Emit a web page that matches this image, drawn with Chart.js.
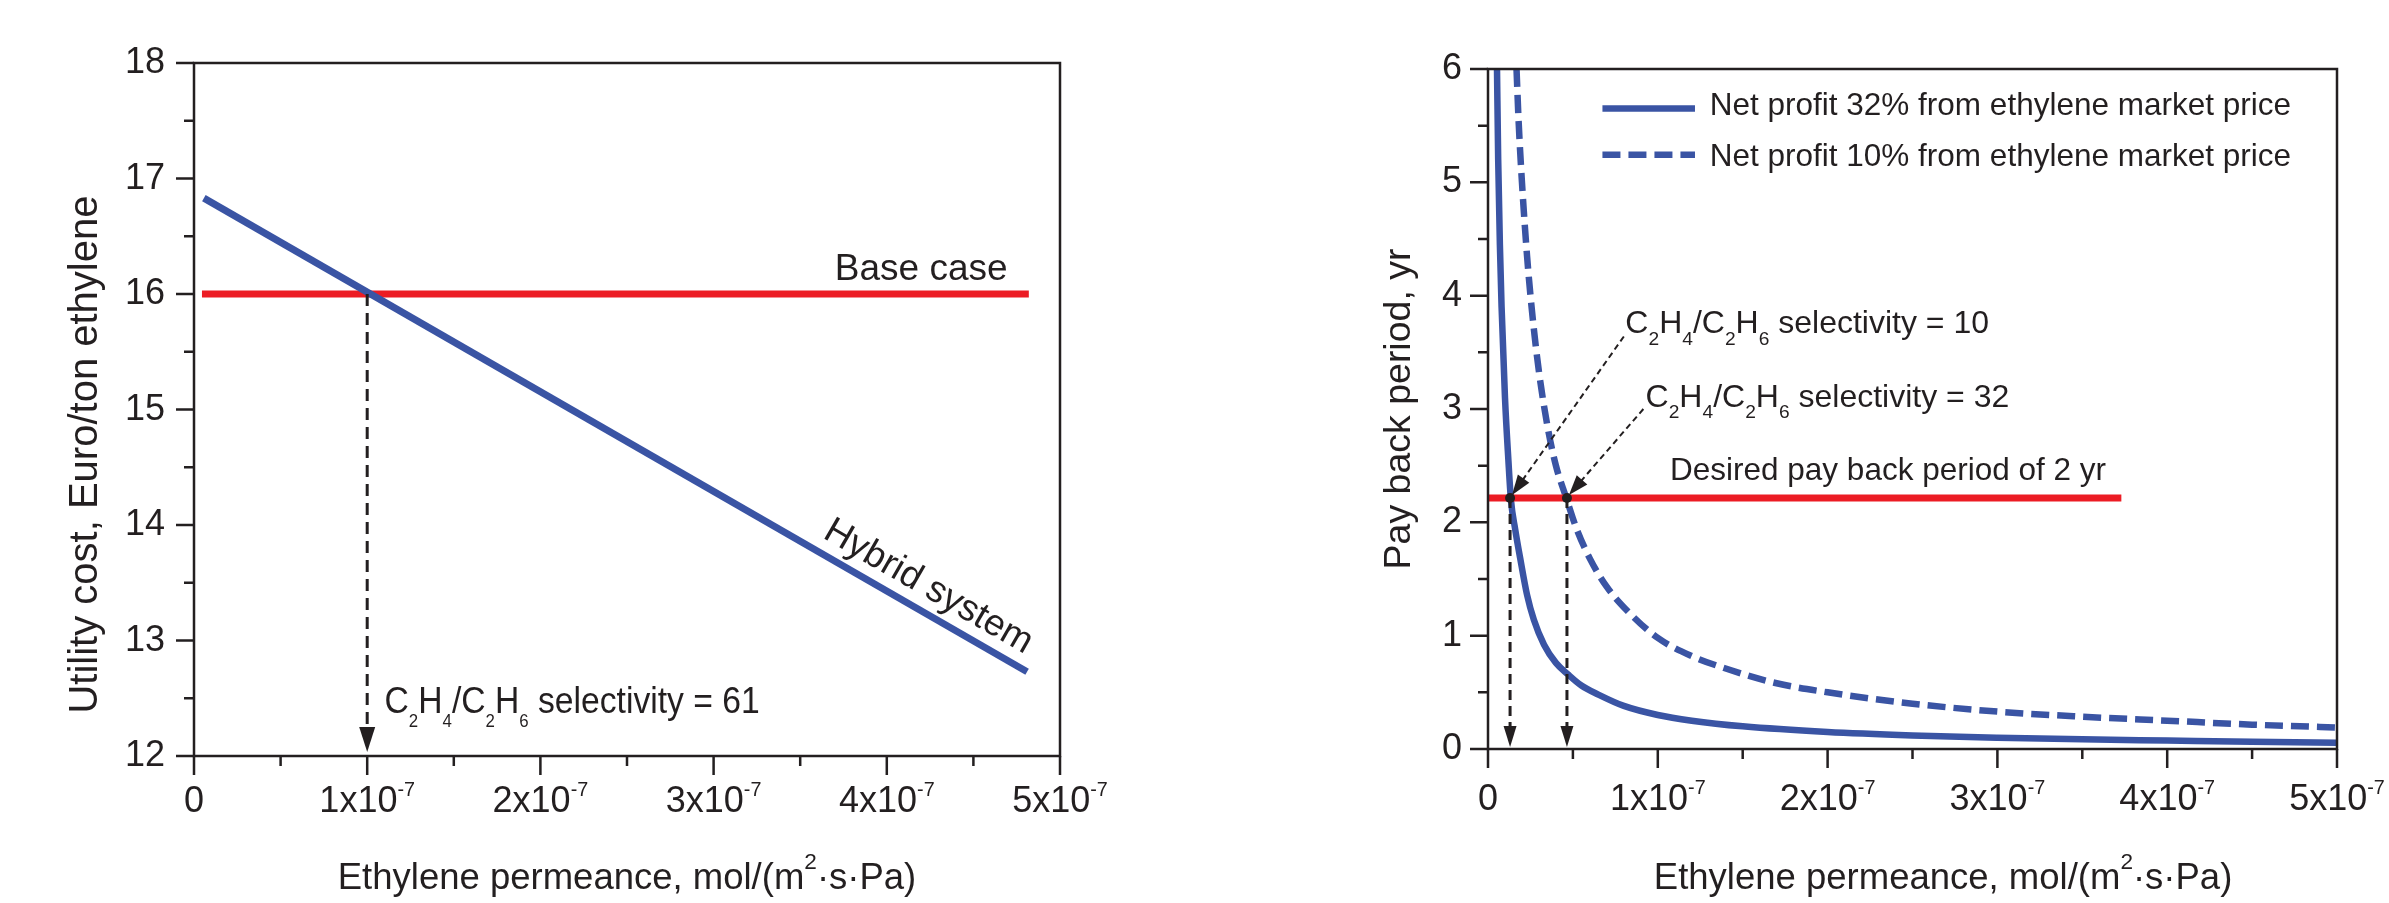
<!DOCTYPE html>
<html><head><meta charset="utf-8">
<script src="https://cdn.jsdelivr.net/npm/chart.js@4.4.1/dist/chart.umd.min.js"></script>
<style>
html,body{margin:0;padding:0;background:#fff;overflow:hidden}
#wrap{position:relative;width:2389px;height:903px;background:#fff}
canvas{position:absolute;top:0}
</style></head><body>
<div id="wrap">
<canvas id="left" width="1194" height="903" style="left:0"></canvas>
<canvas id="right" width="1195" height="903" style="left:1194px"></canvas>
</div>
<script>
// ================= DATA =================
// Left panel: utility cost vs ethylene permeance
const leftPermeance = [0.057e-7, 4.81e-7];
const hybridCost    = [16.83, 12.73];
const basePermeance = [0.046e-7, 4.82e-7];
const baseCost      = [16, 16];
const sel61Permeance = 1e-7;

// Right panel: pay back period vs ethylene permeance
const perm32    = [0.053e-7,0.06e-7,0.07e-7,0.08e-7,0.10e-7,0.12e-7,0.135e-7,0.16e-7,0.19e-7,0.23e-7,0.27e-7,0.33e-7,0.40e-7,0.47e-7,0.55e-7,0.65e-7,0.80e-7,1.0e-7,1.2e-7,1.5e-7,2.0e-7,2.5e-7,3.0e-7,3.5e-7,4.0e-7,4.5e-7,5.0e-7];
const payback32 = [6.0,5.2,4.45,3.9,3.1,2.55,2.2,1.94,1.68,1.36,1.14,0.92,0.76,0.66,0.56,0.48,0.38,0.30,0.25,0.20,0.15,0.12,0.10,0.085,0.075,0.065,0.055];
const perm10    = [0.168e-7,0.18e-7,0.20e-7,0.23e-7,0.26e-7,0.30e-7,0.35e-7,0.40e-7,0.46e-7,0.52e-7,0.60e-7,0.70e-7,0.82e-7,1.0e-7,1.2e-7,1.4e-7,1.7e-7,2.0e-7,2.5e-7,3.0e-7,3.5e-7,4.0e-7,4.5e-7,5.0e-7];
const payback10 = [6.0,5.55,5.0,4.35,3.85,3.33,2.85,2.5,2.22,1.95,1.68,1.43,1.22,0.98,0.82,0.71,0.58,0.50,0.40,0.33,0.285,0.25,0.215,0.19];
const desiredPermeance = [0, 3.73e-7];
const desiredPayback   = [2.215, 2.215];
const crossPermeance   = [0.13e-7, 0.465e-7];
const crossPayback     = 2.215;

// Ticks
const xMajor = [0,1e-7,2e-7,3e-7,4e-7,5e-7];
const xMinor = [0.5e-7,1.5e-7,2.5e-7,3.5e-7,4.5e-7];
const xTickMantissa = ['0','1x10','2x10','3x10','4x10','5x10'];
const xTickExponent = ['','-7','-7','-7','-7','-7'];
const leftYMajor = [12,13,14,15,16,17,18];
const leftYMinor = [12.5,13.5,14.5,15.5,16.5,17.5];
const rightYMajor = [0,1,2,3,4,5,6];
const rightYMinor = [0.5,1.5,2.5,3.5,4.5,5.5];

// ================= STYLE =================
const INK='#231f20', BLUE='#3a54a4', RED='#ec1c24';
const FONT='"Liberation Sans", Arial, Helvetica, sans-serif';

function rich(ctx, parts, x, y, size, align, opt) {
  opt = Object.assign({subScale:0.55, subDy:0.36, supScale:0.58, supDy:-0.42, hscale:1}, opt||{});
  const fz = m => (m==='sub' ? size*opt.subScale : m==='sup' ? size*opt.supScale : size);
  const widths = parts.map(([t,m]) => { ctx.font = fz(m)+'px '+FONT; return ctx.measureText(t).width; });
  const total = widths.reduce((s,w)=>s+w,0)*opt.hscale;
  let sx = align==='center' ? x-total/2 : align==='right' ? x-total : x;
  ctx.save();
  ctx.translate(sx, y); ctx.scale(opt.hscale, 1);
  ctx.textAlign='left'; ctx.textBaseline='alphabetic'; ctx.fillStyle=INK;
  let cx = 0;
  parts.forEach(([t,m],i)=>{
    ctx.font = fz(m)+'px '+FONT;
    const dy = m==='sub' ? size*opt.subDy : m==='sup' ? size*opt.supDy : 0;
    ctx.fillText(t, cx, dy);
    cx += widths[i];
  });
  ctx.restore();
}
function arrowHead(ctx, tx, ty, ang, len, hw) {
  ctx.save(); ctx.setLineDash([]); ctx.fillStyle=INK;
  ctx.translate(tx,ty); ctx.rotate(ang);
  ctx.beginPath(); ctx.moveTo(0,0); ctx.lineTo(-len,-hw); ctx.lineTo(-len,hw); ctx.closePath(); ctx.fill();
  ctx.restore();
}
function dashedArrow(ctx, x1,y1,x2,y2, dash, lw, len, hw) {
  const ang = Math.atan2(y2-y1, x2-x1);
  const ex = x2 - Math.cos(ang)*len*0.8, ey = y2 - Math.sin(ang)*len*0.8;
  ctx.save(); ctx.strokeStyle=INK; ctx.lineWidth=lw; ctx.setLineDash(dash);
  ctx.beginPath(); ctx.moveTo(x1,y1); ctx.lineTo(ex,ey); ctx.stroke(); ctx.restore();
  arrowHead(ctx, x2,y2, ang, len, hw);
}
function axes(chart, c) {
  const {ctx, chartArea:a, scales:{x,y}} = chart;
  ctx.save();
  ctx.strokeStyle=INK; ctx.lineWidth=2.5; ctx.setLineDash([]);
  ctx.strokeRect(a.left, a.top, a.right-a.left, a.bottom-a.top);
  ctx.beginPath();
  xMajor.forEach(v=>{const p=x.getPixelForValue(v); ctx.moveTo(p,a.bottom); ctx.lineTo(p,a.bottom+19);});
  xMinor.forEach(v=>{const p=x.getPixelForValue(v); ctx.moveTo(p,a.bottom); ctx.lineTo(p,a.bottom+10);});
  c.yMajor.forEach(v=>{const p=y.getPixelForValue(v); ctx.moveTo(a.left-18,p); ctx.lineTo(a.left,p);});
  c.yMinor.forEach(v=>{const p=y.getPixelForValue(v); ctx.moveTo(a.left-10,p); ctx.lineTo(a.left,p);});
  ctx.stroke();
  xMajor.forEach((v,i)=>{
    const parts=[[xTickMantissa[i],'b']]; if(xTickExponent[i]) parts.push([xTickExponent[i],'sup']);
    rich(ctx, parts, x.getPixelForValue(v), a.bottom+c.xLabelDy, 36, 'center', {supScale:0.55, supDy:-0.44});
  });
  c.yMajor.forEach(v=>{ rich(ctx, [[String(v),'b']], a.left-c.yLabelDx, y.getPixelForValue(v)+10, 36, 'right'); });
  // axis titles
  rich(ctx, [['Ethylene permeance, mol/(m','b'],['2','sup'],['\u00b7s\u00b7Pa)','b']], x.getPixelForValue(c.xTitleAt), 889, 36.5, 'center', {supScale:0.62, supDy:-0.56});
  ctx.save(); ctx.translate(c.yTitleX, y.getPixelForValue(c.yTitleAt)); ctx.rotate(-Math.PI/2);
  rich(ctx, [[c.yTitle,'b']], 0, 0, c.yTitleSize, 'center'); ctx.restore();
  ctx.restore();
}
const C2 = (n) => [['C','b'],['2','sub'],['H','b'],['4','sub'],['/C','b'],['2','sub'],['H','b'],['6','sub'],[' selectivity = '+n,'b']];

// ================= LEFT CHART =================
const leftDecor = { id:'leftDecor', afterDraw(chart){
  const {ctx, chartArea:a, scales:{x,y}} = chart;
  axes(chart, {yMajor:leftYMajor, yMinor:leftYMinor, xLabelDy:56, yLabelDx:29, xTitleAt:2.5e-7, yTitleX:97, yTitleAt:14.61, yTitleSize:40, yTitle:'Utility cost, Euro/ton ethylene'});
  ctx.save();
  // dashed arrow down from the crossing
  const px = x.getPixelForValue(sel61Permeance);
  dashedArrow(ctx, px, y.getPixelForValue(16), px, a.bottom-4, [12,7], 3, 25, 8);
  rich(ctx, C2('61'), x.getPixelForValue(1.10e-7), y.getPixelForValue(12.368), 37, 'left', {subScale:0.5, subDy:0.37, hscale:0.91});
  rich(ctx, [['Base case','b']], x.getPixelForValue(3.70e-7), y.getPixelForValue(16.12), 37, 'left');
  // rotated label along the hybrid line
  const x1=x.getPixelForValue(leftPermeance[0]), y1=y.getPixelForValue(hybridCost[0]);
  const x2=x.getPixelForValue(leftPermeance[1]), y2=y.getPixelForValue(hybridCost[1]);
  const ang=Math.atan2(y2-y1,x2-x1);
  const ax=x.getPixelForValue(4.17e-7), ay=y1+(ax-x1)*(y2-y1)/(x2-x1);
  ctx.translate(ax+Math.sin(ang)*14, ay-Math.cos(ang)*14); ctx.rotate(ang);
  rich(ctx, [['Hybrid system','b']], 0, 0, 37, 'center');
  ctx.restore();
}};
new Chart(document.getElementById('left'), {
  type:'scatter',
  data:{datasets:[
    {data:leftPermeance.map((v,i)=>({x:v,y:hybridCost[i]})), showLine:true, borderColor:BLUE, borderWidth:7, pointRadius:0},
    {data:basePermeance.map((v,i)=>({x:v,y:baseCost[i]})), showLine:true, borderColor:RED, borderWidth:7, pointRadius:0}
  ]},
  options:{responsive:false, animation:false, devicePixelRatio:1, events:[],
    layout:{padding:{left:194,right:134,top:63,bottom:147}},
    plugins:{legend:{display:false}, tooltip:{enabled:false}},
    scales:{x:{type:'linear',min:0,max:5e-7,display:false}, y:{type:'linear',min:12,max:18,display:false}}},
  plugins:[leftDecor]
});

// ================= RIGHT CHART =================
const rightDecor = { id:'rightDecor', afterDraw(chart){
  const {ctx, chartArea:a, scales:{x,y}} = chart;
  axes(chart, {yMajor:rightYMajor, yMinor:rightYMinor, xLabelDy:61, yLabelDx:26, xTitleAt:2.68e-7, yTitleX:216, yTitleAt:3.0, yTitleSize:37.5, yTitle:'Pay back period, yr'});
  ctx.save();
  const cy = y.getPixelForValue(crossPayback);
  crossPermeance.forEach(v=>{
    const px=x.getPixelForValue(v);
    dashedArrow(ctx, px, cy, px, a.bottom-2, [10,6], 3, 21, 6.5);
  });
  // diagonal pointers
  dashedArrow(ctx, x.getPixelForValue(0.80e-7), y.getPixelForValue(3.64), x.getPixelForValue(crossPermeance[0])+2, cy-3, [6,4], 2, 20, 7);
  dashedArrow(ctx, x.getPixelForValue(0.915e-7), y.getPixelForValue(3.0), x.getPixelForValue(crossPermeance[1])+2, cy-3, [6,4], 2, 20, 7);
  ctx.fillStyle=INK;
  crossPermeance.forEach(v=>{ ctx.beginPath(); ctx.arc(x.getPixelForValue(v), cy, 5, 0, Math.PI*2); ctx.fill(); });
  rich(ctx, C2('10'), x.getPixelForValue(0.809e-7), y.getPixelForValue(3.668), 32, 'left', {subScale:0.6, subDy:0.36});
  rich(ctx, C2('32'), x.getPixelForValue(0.928e-7), y.getPixelForValue(3.021), 32, 'left', {subScale:0.6, subDy:0.36});
  rich(ctx, [['Desired pay back period of 2 yr','b']], x.getPixelForValue(1.072e-7), y.getPixelForValue(2.374), 31.5, 'left');
  // legend
  const lx1=x.getPixelForValue(0.674e-7), lx2=x.getPixelForValue(1.219e-7), tx=x.getPixelForValue(1.306e-7);
  const ly1=y.getPixelForValue(5.652), ly2=y.getPixelForValue(5.243);
  ctx.strokeStyle=BLUE; ctx.lineWidth=6.5;
  ctx.setLineDash([]); ctx.beginPath(); ctx.moveTo(lx1,ly1); ctx.lineTo(lx2,ly1); ctx.stroke();
  ctx.setLineDash([18,8]); ctx.beginPath(); ctx.moveTo(lx1,ly2); ctx.lineTo(lx2,ly2); ctx.stroke();
  ctx.setLineDash([]);
  rich(ctx, [['Net profit 32% from ethylene market price','b']], tx, ly1+7, 31.5, 'left');
  rich(ctx, [['Net profit 10% from ethylene market price','b']], tx, ly2+11, 31.5, 'left');
  ctx.restore();
}};
new Chart(document.getElementById('right'), {
  type:'scatter',
  data:{datasets:[
    {data:desiredPermeance.map((v,i)=>({x:v,y:desiredPayback[i]})), showLine:true, borderColor:RED, borderWidth:7, pointRadius:0},
    {data:perm32.map((v,i)=>({x:v,y:payback32[i]})), showLine:true, borderColor:BLUE, borderWidth:6.5, pointRadius:0, cubicInterpolationMode:'monotone'},
    {data:perm10.map((v,i)=>({x:v,y:payback10[i]})), showLine:true, borderColor:BLUE, borderWidth:6.5, borderDash:[18,8], pointRadius:0, cubicInterpolationMode:'monotone'}
  ]},
  options:{responsive:false, animation:false, devicePixelRatio:1, events:[],
    layout:{padding:{left:294,right:52,top:69,bottom:154}},
    plugins:{legend:{display:false}, tooltip:{enabled:false}},
    scales:{x:{type:'linear',min:0,max:5e-7,display:false}, y:{type:'linear',min:0,max:6,display:false}}},
  plugins:[rightDecor]
});
</script>
</body></html>
